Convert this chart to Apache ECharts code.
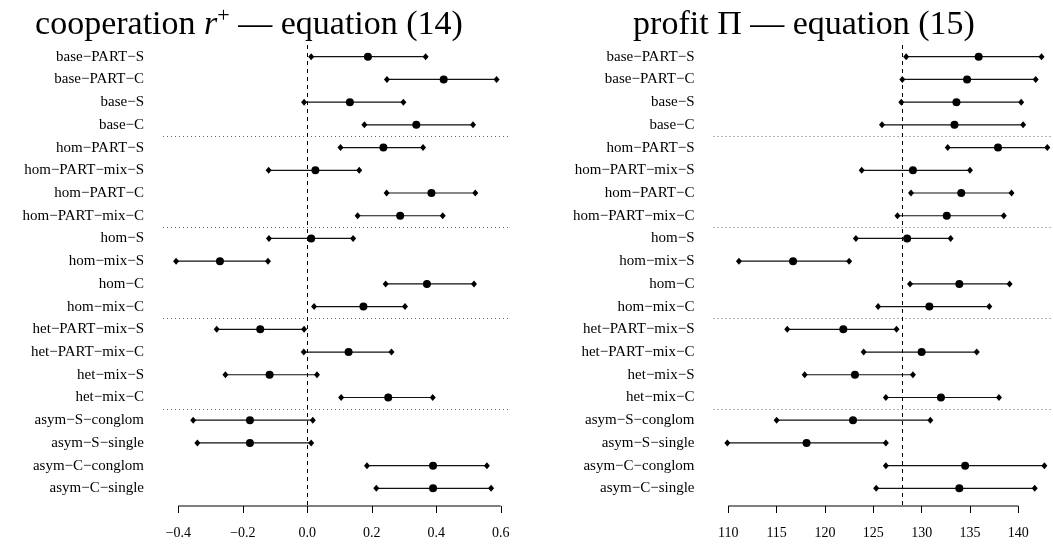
<!DOCTYPE html>
<html>
<head>
<meta charset="utf-8">
<script src="https://cdn.jsdelivr.net/npm/echarts@6/dist/echarts.min.js"></script>
<style>html,body{margin:0;padding:0;background:#fff}#c{width:1053px;height:544px}</style>
</head>
<body>
<div id="c"></div>
<script>
const rowLabels = [
  'base\u2212PART\u2212S','base\u2212PART\u2212C','base\u2212S','base\u2212C',
  'hom\u2212PART\u2212S','hom\u2212PART\u2212mix\u2212S','hom\u2212PART\u2212C','hom\u2212PART\u2212mix\u2212C',
  'hom\u2212S','hom\u2212mix\u2212S','hom\u2212C','hom\u2212mix\u2212C',
  'het\u2212PART\u2212mix\u2212S','het\u2212PART\u2212mix\u2212C','het\u2212mix\u2212S','het\u2212mix\u2212C',
  'asym\u2212S\u2212conglom','asym\u2212S\u2212single','asym\u2212C\u2212conglom','asym\u2212C\u2212single'
];
const coopLow  = [0.012, 0.247, -0.010, 0.177, 0.103, -0.120, 0.246, 0.156, -0.119, -0.407, 0.243, 0.021, -0.281, -0.011, -0.254, 0.105, -0.354, -0.341, 0.185, 0.214];
const coopEst  = [0.188, 0.423, 0.132, 0.338, 0.236, 0.025, 0.385, 0.288, 0.012, -0.271, 0.371, 0.174, -0.146, 0.128, -0.117, 0.251, -0.178, -0.178, 0.390, 0.390];
const coopHigh = [0.367, 0.587, 0.298, 0.514, 0.359, 0.161, 0.521, 0.420, 0.142, -0.122, 0.517, 0.303, -0.010, 0.261, 0.030, 0.389, 0.017, 0.012, 0.557, 0.570];
const profitLow  = [128.4, 128.0, 127.9, 125.9, 132.7, 123.8, 128.9, 127.5, 123.2, 111.1, 128.8, 125.5, 116.1, 124.0, 117.9, 126.3, 115.0, 109.9, 126.3, 125.3];
const profitEst  = [135.9, 134.7, 133.6, 133.4, 137.9, 129.1, 134.1, 132.6, 128.5, 116.7, 133.9, 130.8, 121.9, 130.0, 123.1, 132.0, 122.9, 118.1, 134.5, 133.9];
const profitHigh = [142.4, 141.8, 140.3, 140.5, 143.0, 135.0, 139.3, 138.5, 133.0, 122.5, 139.1, 137.0, 127.4, 135.7, 129.1, 138.0, 130.9, 126.3, 142.7, 141.7];
const coopTicks = [-0.4, -0.2, 0, 0.2, 0.4, 0.6];
const coopTickLabels = ['\u22120.4', '\u22120.2', '0.0', '0.2', '0.4', '0.6'];
const profitTicks = [110, 115, 120, 125, 130, 135, 140];
const profitTickLabels = ['110', '115', '120', '125', '130', '135', '140'];
const coopRef = 0;
const profitRef = 128;
const groupBreaks = [4.5, 8.5, 12.5, 16.5];

const SERIF = "'Liberation Serif', 'DejaVu Serif', serif";
const rowsIdx = rowLabels.map((_, i) => i + 1);
const Y_MIN = 0.485, Y_MAX = 20.776;

function panel(gi, low, est, high, ticks, tickLabels, ref, xmin, xmax) {
  const ci = [];
  low.forEach((l, i) => { ci.push([l, i + 1]); ci.push([high[i], i + 1]); ci.push('-'); });
  const xAxis = {
    type: 'value', gridIndex: gi, min: xmin, max: xmax,
    axisLine: { show: false },
    splitLine: { show: false },
    axisTick: { show: true, customValues: ticks, length: 7, lineStyle: { color: '#000', width: 1 } },
    axisLabel: {
      customValues: ticks, margin: 20, color: '#000', fontFamily: SERIF, fontSize: 14,
      formatter: v => { const k = ticks.findIndex(t => Math.abs(t - v) < 1e-9); return k >= 0 ? tickLabels[k] : ''; }
    }
  };
  const yAxis = {
    type: 'value', gridIndex: gi, inverse: true, min: Y_MIN, max: Y_MAX,
    axisLine: { show: false }, axisTick: { show: false }, splitLine: { show: false },
    axisLabel: {
      customValues: rowsIdx, margin: 19, color: '#000', fontFamily: SERIF, fontSize: 15,
      formatter: v => rowLabels[Math.round(v) - 1] || ''
    }
  };
  const series = [
    {
      type: 'line', xAxisIndex: gi, yAxisIndex: gi, data: ci, connectNulls: false,
      symbol: 'diamond', symbolSize: [6, 7], showSymbol: true,
      lineStyle: { color: '#111', width: 1.2 }, itemStyle: { color: '#000', opacity: 1 },
      animation: false, silent: true, z: 3,
      markLine: {
        silent: true, symbol: 'none', label: { show: false }, animation: false,
        data: [
          ...groupBreaks.map(b => ({ yAxis: b, lineStyle: { type: [1, 3], color: '#666', width: 1 } })),
          { xAxis: ref, lineStyle: { type: [4, 4], color: '#000', width: 1 } }
        ]
      }
    },
    {
      type: 'scatter', xAxisIndex: gi, yAxisIndex: gi,
      data: est.map((v, i) => [v, i + 1]), symbol: 'circle', symbolSize: 8,
      itemStyle: { color: '#000', opacity: 1 }, animation: false, silent: true, z: 4
    },
    {
      type: 'line', xAxisIndex: gi, yAxisIndex: gi, clip: false,
      data: [[ticks[0], Y_MAX], [ticks[ticks.length - 1], Y_MAX]],
      symbol: 'none', lineStyle: { color: '#000', width: 1 }, animation: false, silent: true
    }
  ];
  return { xAxis, yAxis, series };
}

const p0 = panel(0, coopLow, coopEst, coopHigh, coopTicks, coopTickLabels, coopRef, -0.4476, 0.624);
const p1 = panel(1, profitLow, profitEst, profitHigh, profitTicks, profitTickLabels, profitRef, 108.47, 143.59);

const titleRich = {
  n: { fontFamily: SERIF, fontSize: 34, fontWeight: 'normal', color: '#000', lineHeight: 40 },
  i: { fontFamily: SERIF, fontSize: 34, fontWeight: 'normal', fontStyle: 'italic', color: '#000', lineHeight: 40 },
  s: { fontFamily: SERIF, fontSize: 22, fontWeight: 'normal', color: '#000', lineHeight: 22, verticalAlign: 'top' }
};

const chart = echarts.init(document.getElementById('c'), null, { renderer: 'canvas' });
chart.setOption({
  backgroundColor: '#fff',
  animation: false,
  title: [
    { text: '{n|cooperation }{i|r}{s|+}{n| \u2014 equation (14)}', left: 244, top: 0, textAlign: 'center', textStyle: { fontWeight: 'normal', rich: titleRich } },
    { text: '{n|profit \u03A0 \u2014 equation (15)}', left: 799, top: 0, textAlign: 'center', textStyle: { fontWeight: 'normal', rich: titleRich } }
  ],
  grid: [
    { left: 163, top: 45, width: 345.5, height: 461, containLabel: false },
    { left: 713.5, top: 45, width: 339.5, height: 461, containLabel: false }
  ],
  xAxis: [p0.xAxis, p1.xAxis],
  yAxis: [p0.yAxis, p1.yAxis],
  series: [...p0.series, ...p1.series]
});
</script>
</body>
</html>
